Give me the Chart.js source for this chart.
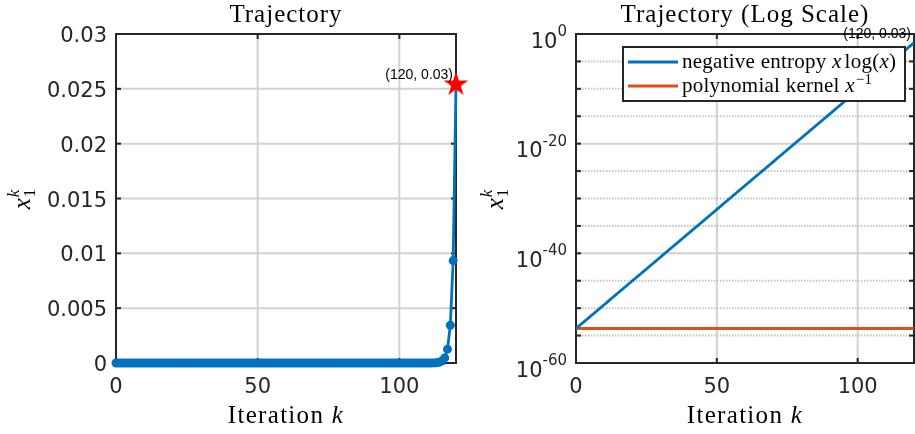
<!DOCTYPE html>
<html><head><meta charset="utf-8">
<script src="https://cdn.jsdelivr.net/npm/chart.js@4.4.1/dist/chart.umd.min.js"></script>
<style>
html,body{margin:0;padding:0;background:#fff;width:915px;height:434px;overflow:hidden}
canvas{position:absolute;top:0}
</style></head>
<body>
<canvas id="c1" width="470" height="434" style="left:0px"></canvas>
<canvas id="c2" width="445" height="434" style="left:470px"></canvas>
<script>
// ---------------- data ----------------
const iterations = [0,1,2,3,4,5,6,7,8,9,10,11,12,13,14,15,16,17,18,19,20,21,22,23,24,25,26,27,28,29,30,31,32,33,34,35,36,37,38,39,40,41,42,43,44,45,46,47,48,49,50,51,52,53,54,55,56,57,58,59,60,61,62,63,64,65,66,67,68,69,70,71,72,73,74,75,76,77,78,79,80,81,82,83,84,85,86,87,88,89,90,91,92,93,94,95,96,97,98,99,100,101,102,103,104,105,106,107,108,109,110,111,112,113,114,115,116,117,118,119,120];
const entropyValues = [1.95e-54,5.29e-54,1.44e-53,3.91e-53,1.06e-52,2.89e-52,7.86e-52,2.14e-51,5.81e-51,1.58e-50,
4.29e-50,1.17e-49,3.17e-49,8.62e-49,2.34e-48,6.37e-48,1.73e-47,4.70e-47,1.28e-46,3.48e-46,
9.45e-46,2.57e-45,6.98e-45,1.90e-44,5.16e-44,1.40e-43,3.81e-43,1.04e-42,2.82e-42,7.66e-42,
2.08e-41,5.66e-41,1.54e-40,4.18e-40,1.14e-39,3.09e-39,8.40e-39,2.28e-38,6.20e-38,1.69e-37,
4.58e-37,1.25e-36,3.39e-36,9.21e-36,2.50e-35,6.80e-35,1.85e-34,5.03e-34,1.37e-33,3.71e-33,
1.01e-32,2.74e-32,7.46e-32,2.03e-31,5.51e-31,1.50e-30,4.07e-30,1.11e-29,3.01e-29,8.18e-29,
2.22e-28,6.05e-28,1.64e-27,4.47e-27,1.21e-26,3.30e-26,8.97e-26,2.44e-25,6.63e-25,1.80e-24,
4.90e-24,1.33e-23,3.62e-23,9.84e-23,2.67e-22,7.27e-22,1.98e-21,5.37e-21,1.46e-20,3.97e-20,
1.08e-19,2.93e-19,7.97e-19,2.17e-18,5.89e-18,1.60e-17,4.35e-17,1.18e-16,3.22e-16,8.74e-16,
2.38e-15,6.46e-15,1.76e-14,4.77e-14,1.30e-13,3.53e-13,9.59e-13,2.61e-12,7.09e-12,1.93e-11,
5.24e-11,1.42e-10,3.87e-10,1.05e-9,2.86e-9,7.77e-9,2.11e-8,5.74e-8,1.56e-7,4.24e-7,
1.15e-6,3.13e-6,8.52e-6,2.32e-5,6.30e-5,1.71e-4,4.65e-4,1.26e-3,3.44e-3,9.34e-3,
2.54e-2];
const polyValues = [1.95e-54,1.95e-54,1.95e-54,1.95e-54,1.95e-54,1.95e-54,1.95e-54,1.95e-54,1.95e-54,1.95e-54,
1.95e-54,1.95e-54,1.95e-54,1.95e-54,1.95e-54,1.95e-54,1.95e-54,1.95e-54,1.95e-54,1.95e-54,
1.95e-54,1.95e-54,1.95e-54,1.95e-54,1.95e-54,1.95e-54,1.95e-54,1.95e-54,1.95e-54,1.95e-54,
1.95e-54,1.95e-54,1.95e-54,1.95e-54,1.95e-54,1.95e-54,1.95e-54,1.95e-54,1.95e-54,1.95e-54,
1.95e-54,1.95e-54,1.95e-54,1.95e-54,1.95e-54,1.95e-54,1.95e-54,1.95e-54,1.95e-54,1.95e-54,
1.95e-54,1.95e-54,1.95e-54,1.95e-54,1.95e-54,1.95e-54,1.95e-54,1.95e-54,1.95e-54,1.95e-54,
1.95e-54,1.95e-54,1.95e-54,1.95e-54,1.95e-54,1.95e-54,1.95e-54,1.95e-54,1.95e-54,1.95e-54,
1.95e-54,1.95e-54,1.95e-54,1.95e-54,1.95e-54,1.95e-54,1.95e-54,1.95e-54,1.95e-54,1.95e-54,
1.95e-54,1.95e-54,1.95e-54,1.95e-54,1.95e-54,1.95e-54,1.95e-54,1.95e-54,1.95e-54,1.95e-54,
1.95e-54,1.95e-54,1.95e-54,1.95e-54,1.95e-54,1.95e-54,1.95e-54,1.95e-54,1.95e-54,1.95e-54,
1.95e-54,1.95e-54,1.95e-54,1.95e-54,1.95e-54,1.95e-54,1.95e-54,1.95e-54,1.95e-54,1.95e-54,
1.95e-54,1.95e-54,1.95e-54,1.95e-54,1.95e-54,1.95e-54,1.95e-54,1.95e-54,1.95e-54,1.95e-54,
1.95e-54];
const finalK = 120;
const finalValue = 0.0254;
const finalLabel = '(120, 0.03)';
const xTicks = [0, 50, 100];
const xTickLabels = ['0', '50', '100'];
const linTicks = [0, 0.005, 0.01, 0.015, 0.02, 0.025, 0.03];
const linTickLabels = ['0', '0.005', '0.01', '0.015', '0.02', '0.025', '0.03'];
const logTickExps = [0, -5, -10, -15, -20, -25, -30, -35, -40, -45, -50, -55, -60];
const logLabelExps = [0, -20, -40, -60];
const logLabelTexts = ['0', '-20', '-40', '-60'];

// ---------------- styles ----------------
const BLUE = '#0072BD', ORANGE = '#D95319', BOX = '#262626', GRID = '#d2d2d2', MINOR = '#c4c4c4';
const SANS = '"DejaVu Sans", sans-serif';
const SERIF = '"Liberation Serif", serif';

function seg(ctx, x1, y1, x2, y2) { ctx.beginPath(); ctx.moveTo(x1, y1); ctx.lineTo(x2, y2); ctx.stroke(); }
function richWidth(ctx, parts) { let w = 0; for (const p of parts) { ctx.font = p.f; w += ctx.measureText(p.t).width + (p.sp || 0); } return w; }
function drawRich(ctx, parts, x, y) {
  ctx.textAlign = 'left';
  let cx = x;
  for (const p of parts) { ctx.font = p.f; ctx.fillText(p.t, cx, y + (p.dy || 0)); cx += ctx.measureText(p.t).width + (p.sp || 0); }
}

function makeStar(R, color) {
  const c = document.createElement('canvas');
  const s = Math.ceil(2 * R + 2); c.width = s; c.height = s;
  const g = c.getContext('2d'); g.fillStyle = color; g.beginPath();
  const r = R * 0.382;
  for (let i = 0; i < 10; i++) {
    const ang = -Math.PI / 2 + i * Math.PI / 5; const rr = i % 2 ? r : R;
    g.lineTo(s / 2 + rr * Math.cos(ang), s / 2 + rr * Math.sin(ang));
  }
  g.closePath(); g.fill(); return c;
}

function axesPlugin(o) {
  return {
    id: 'axes_' + o.name,
    beforeDatasetsDraw(chart) {
      const { ctx, chartArea: a, scales: { x, y } } = chart;
      ctx.save();
      // grid
      ctx.lineWidth = 2; ctx.strokeStyle = GRID; ctx.setLineDash([]);
      for (const t of xTicks) { const px = x.getPixelForValue(t); if (px > a.left + 2 && px < a.right - 2) seg(ctx, px, a.top, px, a.bottom); }
      for (const t of o.yTicks) {
        const py = y.getPixelForValue(t.v); if (py <= a.top + 2 || py >= a.bottom - 2) continue;
        if (t.minor) { ctx.strokeStyle = MINOR; ctx.lineWidth = 2; ctx.setLineDash([1.5, 1.5]); }
        else { ctx.strokeStyle = GRID; ctx.lineWidth = 2; ctx.setLineDash([]); }
        seg(ctx, a.left, py, a.right, py);
      }
      ctx.setLineDash([]);
      // box
      ctx.strokeStyle = BOX; ctx.lineWidth = 2;
      ctx.strokeRect(a.left, a.top, a.right - a.left, a.bottom - a.top);
      // tick marks (inward, both sides)
      const TL = 5;
      for (const t of xTicks) { const px = x.getPixelForValue(t); seg(ctx, px, a.bottom, px, a.bottom - TL); seg(ctx, px, a.top, px, a.top + TL); }
      for (const t of o.yTicks) { const py = y.getPixelForValue(t.v); seg(ctx, a.left, py, a.left + TL, py); seg(ctx, a.right, py, a.right - TL, py); }
      // x tick labels
      ctx.fillStyle = BOX; ctx.font = '21px ' + SANS; ctx.textAlign = 'center'; ctx.textBaseline = 'alphabetic';
      xTicks.forEach((t, i) => ctx.fillText(xTickLabels[i], x.getPixelForValue(t), a.bottom + 30));
      // y tick labels
      o.drawYLabels(ctx, a, y);
      // title
      ctx.fillStyle = '#000'; ctx.font = '25px ' + SERIF; ctx.textAlign = 'center';
      ctx.letterSpacing = '1px';
      ctx.fillText(o.title, (a.left + a.right) / 2, 22);
      // x label
      ctx.letterSpacing = '1.3px';
      const xl = [{ t: 'Iteration ', f: '25px ' + SERIF }, { t: 'k', f: 'italic 25px ' + SERIF }];
      const w = richWidth(ctx, xl);
      drawRich(ctx, xl, (a.left + a.right) / 2 - w / 2, 423);
      ctx.letterSpacing = '0px';
      // y label (rotated)
      ctx.save();
      ctx.translate(o.yLabelX, 199); ctx.rotate(-Math.PI / 2);
      ctx.font = 'italic 25px ' + SERIF; const wx = ctx.measureText('x').width;
      ctx.font = '17px ' + SERIF; const w1 = ctx.measureText('1').width;
      ctx.font = 'italic 17px ' + SERIF; const wk = ctx.measureText('k').width;
      const tot = wx + 1 + Math.max(w1, wk);
      const sx = -tot / 2;
      ctx.textAlign = 'left';
      ctx.font = 'italic 25px ' + SERIF; ctx.fillText('x', sx, 0);
      ctx.font = '17px ' + SERIF; ctx.fillText('1', sx + wx + 1, 5);
      ctx.font = 'italic 17px ' + SERIF; ctx.fillText('k', sx + wx + 1, -11);
      ctx.restore();
      ctx.restore();
    },
    afterDatasetsDraw(chart) {
      const { ctx, chartArea: a, scales: { x, y } } = chart;
      ctx.save();
      // annotation
      ctx.fillStyle = '#000'; ctx.font = '14px "Liberation Sans", Arial, sans-serif';
      ctx.textAlign = 'right'; ctx.textBaseline = 'bottom';
      ctx.fillText(finalLabel, x.getPixelForValue(finalK) - 3, y.getPixelForValue(finalValue) - 2);
      ctx.textBaseline = 'alphabetic';
      if (o.legend) {
        const L = a.left + 47, T = a.top + 13, R = a.right - 9, B = a.top + 67;
        ctx.fillStyle = '#fff'; ctx.fillRect(L, T, R - L, B - T);
        ctx.strokeStyle = BOX; ctx.lineWidth = 2; ctx.strokeRect(L, T, R - L, B - T);
        ctx.letterSpacing = '0.25px';
        const rows = [
          { c: BLUE, y: T + 15, parts: [
            { t: 'negative entropy ', f: '21px ' + SERIF }, { t: 'x', f: 'italic 21px ' + SERIF, sp: 3 },
            { t: 'log', f: '21px ' + SERIF }, { t: '(', f: '21px ' + SERIF }, { t: 'x', f: 'italic 21px ' + SERIF }, { t: ')', f: '21px ' + SERIF }] },
          { c: ORANGE, y: T + 39, parts: [
            { t: 'polynomial kernel ', f: '21px ' + SERIF }, { t: 'x', f: 'italic 21px ' + SERIF, sp: 1 },
            { t: '\u22121', f: '15px ' + SERIF, dy: -8 }] }
        ];
        for (const r of rows) {
          ctx.strokeStyle = r.c; ctx.lineWidth = 2.8; seg(ctx, L + 5, r.y, L + 55, r.y);
          ctx.fillStyle = '#000'; drawRich(ctx, r.parts, L + 59, r.y + 6);
        }
        ctx.letterSpacing = '0px';
      }
      ctx.restore();
    }
  };
}

// ---------------- charts ----------------
const linPoints = iterations.map((k, i) => ({ x: k, y: entropyValues[i] }));
const logEntropy = iterations.map((k, i) => ({ x: k, y: entropyValues[i] }));
const logPoly = iterations.map((k, i) => ({ x: k, y: polyValues[i] }));

new Chart(document.getElementById('c1'), {
  type: 'line',
  data: { datasets: [
    { data: [{ x: finalK, y: finalValue }], showLine: false, pointStyle: makeStar(13, '#ff0000'), pointRadius: 13, clip: false, order: -1 },
    { data: linPoints, borderColor: BLUE, backgroundColor: BLUE, borderWidth: 2.8, pointRadius: 4.5, pointBackgroundColor: BLUE, pointBorderWidth: 0, tension: 0, clip: false, order: 0 }
  ] },
  options: {
    responsive: false, animation: false, events: [],
    layout: { padding: { top: 34, right: 14, left: 0, bottom: 0 } },
    plugins: { legend: { display: false }, tooltip: { enabled: false }, title: { display: false } },
    scales: {
      x: { type: 'linear', min: 0, max: 120, grid: { display: false }, border: { display: false }, ticks: { display: false }, afterFit(s) { s.height = 71; } },
      y: { type: 'linear', min: 0, max: 0.03, grid: { display: false }, border: { display: false }, ticks: { display: false }, afterFit(s) { s.width = 116; } }
    }
  },
  plugins: [axesPlugin({
    name: 'lin', title: 'Trajectory', yLabelX: 30, legend: false,
    yTicks: linTicks.map(v => ({ v, minor: false })),
    drawYLabels(ctx, a, y) {
      ctx.fillStyle = BOX; ctx.font = '21px ' + SANS; ctx.textAlign = 'right'; ctx.textBaseline = 'alphabetic';
      linTicks.forEach((t, i) => ctx.fillText(linTickLabels[i], a.left - 9, y.getPixelForValue(t) + 8));
    }
  })]
});

new Chart(document.getElementById('c2'), {
  type: 'line',
  data: { datasets: [
    { label: 'negative entropy', data: logEntropy, borderColor: BLUE, borderWidth: 2.8, pointRadius: 0, tension: 0 },
    { label: 'polynomial kernel', data: logPoly, borderColor: ORANGE, borderWidth: 2.8, pointRadius: 0, tension: 0 }
  ] },
  options: {
    responsive: false, animation: false, events: [],
    layout: { padding: { top: 34, right: 1, left: 0, bottom: 0 } },
    plugins: { legend: { display: false }, tooltip: { enabled: false }, title: { display: false } },
    scales: {
      x: { type: 'linear', min: 0, max: 120, grid: { display: false }, border: { display: false }, ticks: { display: false }, afterFit(s) { s.height = 71; } },
      y: { type: 'logarithmic', min: 1e-60, max: 1, grid: { display: false }, border: { display: false }, ticks: { display: false }, afterFit(s) { s.width = 106; } }
    }
  },
  plugins: [axesPlugin({
    name: 'log', title: 'Trajectory (Log Scale)', yLabelX: 33, legend: true,
    yTicks: logTickExps.map(e => ({ v: Math.pow(10, e), minor: e % 20 !== 0 })),
    drawYLabels(ctx, a, y) {
      ctx.fillStyle = BOX; ctx.textBaseline = 'alphabetic'; ctx.textAlign = 'left';
      logLabelExps.forEach((e, i) => {
        const py = y.getPixelForValue(Math.pow(10, e));
        ctx.font = '15px ' + SANS; const ws = ctx.measureText(logLabelTexts[i]).width;
        ctx.font = '21px ' + SANS; const wb = ctx.measureText('10').width;
        const right = a.left - 9;
        ctx.fillText('10', right - ws - wb, py + 13.5);
        ctx.font = '15px ' + SANS; ctx.fillText(logLabelTexts[i], right - ws, py + 2);
      });
    }
  })]
});
</script>
</body></html>
